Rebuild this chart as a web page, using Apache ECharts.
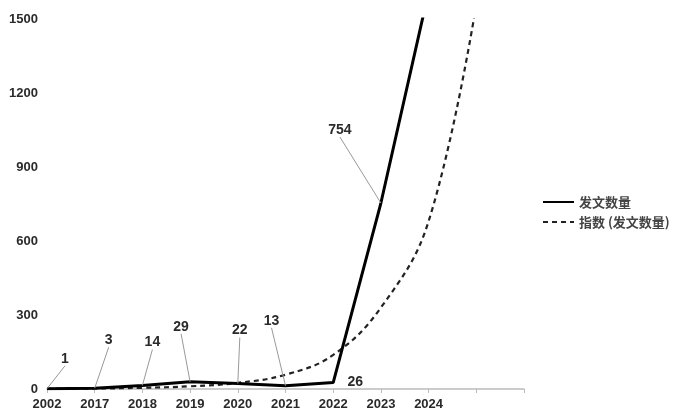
<!DOCTYPE html>
<html>
<head>
<meta charset="utf-8">
<script src="https://cdn.jsdelivr.net/npm/echarts@6/dist/echarts.min.js"></script>
<style>
html,body{margin:0;padding:0;background:#fff;}
#chart{width:675px;height:414px;}
</style>
</head>
<body>
<div id="chart"></div>
<script>
// ---- data ----
var categories = ['2002', '2017', '2018', '2019', '2020', '2021', '2022', '2023', '2024', '', ''];
var seriesNames = ['发文数量', '指数 (发文数量)'];
var countValues = [1, 3, 14, 29, 22, 13, 26, 754, 1610, null, null];
var trendValues = [1, 2, 5, 11, 25, 58, 138, 330, 680, 1560, null];
var yTicks = [0, 300, 600, 900, 1200, 1500];

// ---- label placement (style, not data) ----
var labelOffsets = [[18, -30], [14, -48], [10, -43], [-9, -55], [2, -53], [-14, -65], [22, 0], [-41, -73]];
// elbow leader lines: [bend dx, bend dy, end dx, end dy] relative to the point
var labelElbows = {0: [1, -31, 8, -31], 7: [-19, -73, -26, -73]};
var hideLabelLine = {6: true};

var chart = echarts.init(document.getElementById('chart'));
var numFont = '"Liberation Sans", Arial, sans-serif';

var countData = countValues.map(function (v, i) {
  var item = {value: v};
  if (i >= labelOffsets.length) item.label = {show: false};
  if (hideLabelLine[i]) item.labelLine = {show: false};
  return item;
});

chart.setOption({
  animation: false,
  backgroundColor: '#fff',
  grid: {left: 47, right: 151, top: 19, bottom: 25, containLabel: false},
  legend: {
    orient: 'vertical',
    left: 537,
    top: 190,
    itemWidth: 31,
    itemHeight: 14,
    itemGap: 6,
    data: seriesNames,
    itemStyle: {opacity: 0},
    textStyle: {fontFamily: '"Noto Sans CJK SC", sans-serif', fontSize: 13, fontWeight: 'bold', color: '#444', lineHeight: 14}
  },
  xAxis: {
    type: 'category',
    data: categories,
    boundaryGap: false,
    axisLine: {lineStyle: {color: '#bbb', width: 1.5}},
    axisTick: {show: true, alignWithLabel: true, length: 4, lineStyle: {color: '#bbb'}, interval: 0},
    axisLabel: {interval: 0, margin: 9, fontFamily: numFont, fontWeight: 'bold', fontSize: 13, color: '#2a2a2a'},
    splitLine: {show: false}
  },
  yAxis: {
    type: 'value',
    min: yTicks[0],
    max: yTicks[yTicks.length - 1],
    interval: yTicks[1] - yTicks[0],
    axisLine: {show: false},
    axisTick: {show: false},
    splitLine: {show: false},
    axisLabel: {
      margin: 9, fontFamily: numFont, fontWeight: 'bold', fontSize: 13, color: '#2a2a2a',
      formatter: function (v) { return String(v); }
    }
  },
  series: [
    {
      name: seriesNames[0],
      type: 'line',
      data: countData,
      symbol: 'circle',
      symbolSize: 0.1,
      showSymbol: true,
      clip: true,
      z: 3,
      lineStyle: {color: '#000', width: 3},
      itemStyle: {color: '#000'},
      label: {
        show: true,
        position: 'top',
        fontFamily: numFont,
        fontWeight: 'bold',
        fontSize: 14,
        color: '#2a2a2a'
      },
      labelLine: {show: true, lineStyle: {color: '#999', width: 1}},
      labelLayout: function (params) {
        var off = labelOffsets[params.dataIndex];
        if (!off) return {};
        var cx = params.rect.x + params.rect.width / 2;
        var cy = params.rect.y + params.rect.height / 2;
        var res = {x: cx + off[0], y: cy + off[1], align: 'center', verticalAlign: 'middle', hideOverlap: false, moveOverlap: false};
        var e = labelElbows[params.dataIndex];
        if (e) {
          res.labelLinePoints = [[cx, cy], [cx + e[0], cy + e[1]], [cx + e[2], cy + e[3]]];
        }
        return res;
      }
    },
    {
      name: seriesNames[1],
      type: 'line',
      data: trendValues,
      smooth: 0.4,
      symbol: 'none',
      clip: true,
      z: 2,
      lineStyle: {color: '#222', width: 2.2, type: [5, 4]},
      itemStyle: {color: '#222'}
    }
  ]
});
</script>
</body>
</html>
